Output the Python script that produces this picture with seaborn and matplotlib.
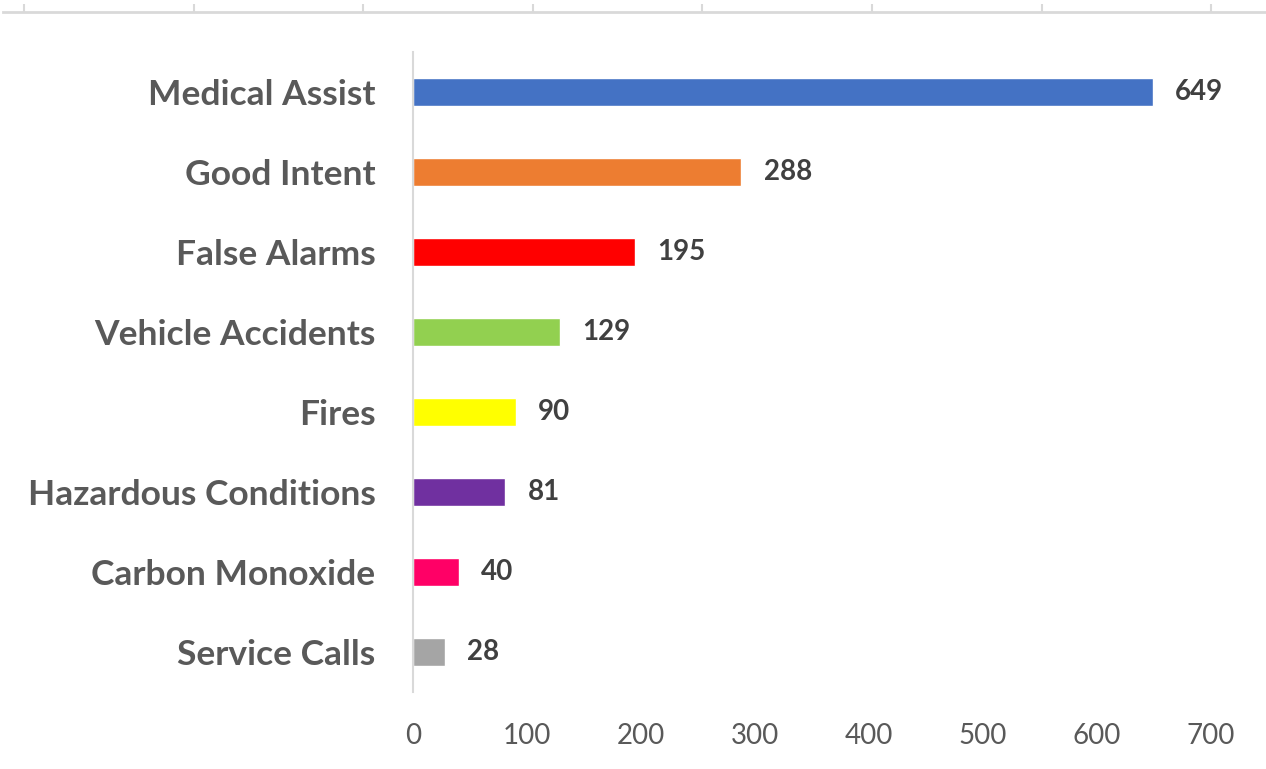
import matplotlib
matplotlib.use("Agg")
import matplotlib.pyplot as plt
import seaborn as sns

categories = ["Medical Assist", "Good Intent", "False Alarms", "Vehicle Accidents",
              "Fires", "Hazardous Conditions", "Carbon Monoxide", "Service Calls"]
counts = [649, 288, 195, 129, 90, 81, 40, 28]
bar_colors = ["#4472C4", "#ED7D31", "#FF0000", "#92D050",
              "#FFFF00", "#7030A0", "#FF0066", "#A5A5A5"]
x_ticks = [0, 100, 200, 300, 400, 500, 600, 700]

sns.set_style("white")
plt.rcParams['font.family'] = ['Lato', 'DejaVu Sans']

fig = plt.figure(figsize=(12.66, 7.69), dpi=100)
ax = fig.add_axes([413 / 1266, 77 / 769, 798 / 1266, 640 / 769])

sns.barplot(x=counts, y=categories, hue=categories, palette=bar_colors,
            orient="h", width=0.35, saturation=1, legend=False, ax=ax)

for container in ax.containers:
    ax.bar_label(container, padding=16, fontsize=20, fontweight="bold", color="#404040")

ax.set_xlim(0, 700)
ax.set_ylim(7.5, -0.5)
ax.set_xticks(x_ticks)
ax.set_xlabel("")
ax.set_ylabel("")
for side in ["top", "right", "bottom"]:
    ax.spines[side].set_visible(False)
ax.spines["left"].set_color("#D9D9D9")
ax.spines["left"].set_linewidth(1.5)
ax.tick_params(axis="x", length=0, pad=22, labelsize=20, labelcolor="#595959")
ax.tick_params(axis="y", length=0, pad=27, labelsize=25.5, labelcolor="#595959")
for lbl in ax.get_yticklabels():
    lbl.set_fontweight("bold")

# leftover axis strip at the top of the picture
top = fig.add_axes([3 / 1266, 757 / 769, 1263 / 1266, 0.01])
top.set_xlim(-0.124, 7.323)
top.set_xticks(range(8))
top.set_xticklabels([])
top.set_yticks([])
for side in ["top", "right", "left"]:
    top.spines[side].set_visible(False)
top.spines["bottom"].set_color("#D9D9D9")
top.spines["bottom"].set_linewidth(2)
top.tick_params(axis="x", bottom=True, direction="in", length=6, width=1.5, color="#D9D9D9")
top.patch.set_alpha(0)

plt.savefig("out.png", dpi=100)
